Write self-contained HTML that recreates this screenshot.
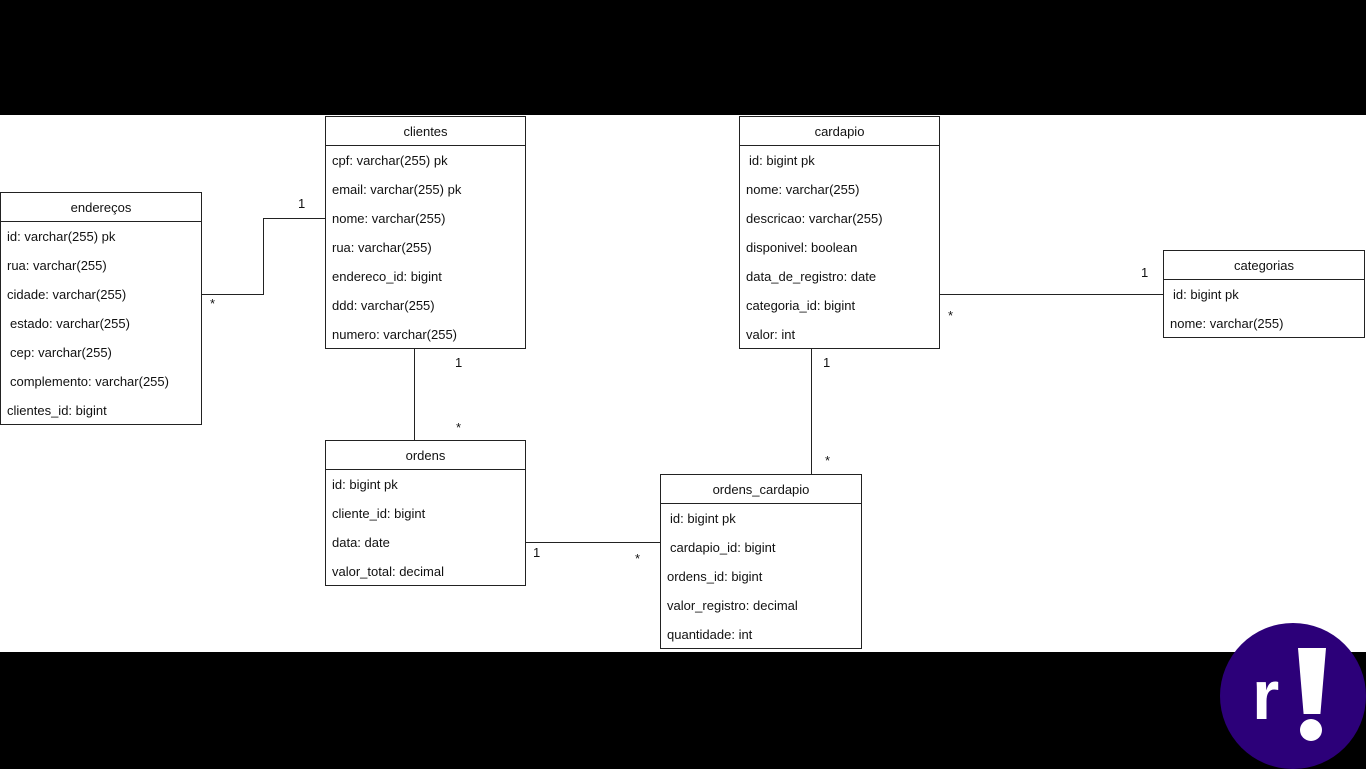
<!DOCTYPE html>
<html><head><meta charset="utf-8"><style>
body{margin:0;width:1366px;height:768px;background:#000;position:relative;overflow:hidden;font-family:"Liberation Sans",sans-serif;font-size:13px;color:#111}
#w{position:absolute;left:0;top:115px;width:1366px;height:537px;background:#fff}
.t{position:absolute;border:1px solid #222;background:#fff;box-sizing:border-box}
.h{height:29px;line-height:29px;text-align:center;border-bottom:1px solid #222;box-sizing:border-box}
.r{height:29px;line-height:29px;padding-left:6px;white-space:nowrap}
.l{position:absolute;background:#222}
.lb{position:absolute;font-size:13px}
</style></head><body>
<div id="w"></div>
<div class="l" style="left:201px;top:294px;width:62px;height:1px"></div>
<div class="l" style="left:263px;top:218px;width:1px;height:77px"></div>
<div class="l" style="left:263px;top:218px;width:62px;height:1px"></div>
<div class="l" style="left:414px;top:348px;width:1px;height:92px"></div>
<div class="l" style="left:525px;top:542px;width:135px;height:1px"></div>
<div class="l" style="left:811px;top:348px;width:1px;height:126px"></div>
<div class="l" style="left:939px;top:294px;width:224px;height:1px"></div>
<div class="lb" style="left:298px;top:196px">1</div>
<div class="lb" style="left:210px;top:296px">*</div>
<div class="lb" style="left:455px;top:355px">1</div>
<div class="lb" style="left:456px;top:420px">*</div>
<div class="lb" style="left:533px;top:545px">1</div>
<div class="lb" style="left:635px;top:551px">*</div>
<div class="lb" style="left:823px;top:355px">1</div>
<div class="lb" style="left:825px;top:453px">*</div>
<div class="lb" style="left:1141px;top:265px">1</div>
<div class="lb" style="left:948px;top:308px">*</div>

<div class="t" style="left:325px;top:116px;width:201px;height:233px"><div class="h">clientes</div>
<div class="r">cpf: varchar(255) pk</div><div class="r">email: varchar(255) pk</div><div class="r">nome: varchar(255)</div><div class="r">rua: varchar(255)</div><div class="r">endereco_id: bigint</div><div class="r">ddd: varchar(255)</div><div class="r">numero: varchar(255)</div></div>

<div class="t" style="left:0px;top:192px;width:202px;height:233px"><div class="h">endereços</div>
<div class="r">id: varchar(255) pk</div><div class="r">rua: varchar(255)</div><div class="r">cidade: varchar(255)</div><div class="r" style="padding-left:9px">estado: varchar(255)</div><div class="r" style="padding-left:9px">cep: varchar(255)</div><div class="r" style="padding-left:9px">complemento: varchar(255)</div><div class="r">clientes_id: bigint</div></div>

<div class="t" style="left:739px;top:116px;width:201px;height:233px"><div class="h">cardapio</div>
<div class="r" style="padding-left:9px">id: bigint pk</div><div class="r">nome: varchar(255)</div><div class="r">descricao: varchar(255)</div><div class="r">disponivel: boolean</div><div class="r">data_de_registro: date</div><div class="r">categoria_id: bigint</div><div class="r">valor: int</div></div>

<div class="t" style="left:1163px;top:250px;width:202px;height:88px"><div class="h">categorias</div>
<div class="r" style="padding-left:9px">id: bigint pk</div><div class="r">nome: varchar(255)</div></div>

<div class="t" style="left:325px;top:440px;width:201px;height:146px"><div class="h">ordens</div>
<div class="r">id: bigint pk</div><div class="r">cliente_id: bigint</div><div class="r">data: date</div><div class="r">valor_total: decimal</div></div>

<div class="t" style="left:660px;top:474px;width:202px;height:175px"><div class="h">ordens_cardapio</div>
<div class="r" style="padding-left:9px">id: bigint pk</div><div class="r" style="padding-left:9px">cardapio_id: bigint</div><div class="r">ordens_id: bigint</div><div class="r">valor_registro: decimal</div><div class="r">quantidade: int</div></div>

<div style="position:absolute;left:1220px;top:623px;width:146px;height:146px;border-radius:50%;background:#2c0079"></div>
<div style="position:absolute;left:1252px;top:660px;color:#fff;font-weight:bold;font-size:70px;line-height:70px;font-family:'Liberation Sans',sans-serif">r</div>
<div style="position:absolute;left:1298px;top:648px;width:28px;height:66px;background:#fff;clip-path:polygon(0 0,100% 0,80% 100%,20% 100%)"></div>
<div style="position:absolute;left:1300px;top:719px;width:22px;height:22px;border-radius:50%;background:#fff"></div>
</body></html>
